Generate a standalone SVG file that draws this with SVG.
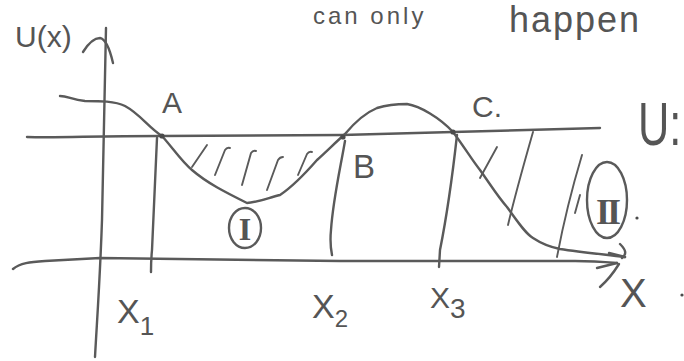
<svg xmlns="http://www.w3.org/2000/svg" width="684" height="361" viewBox="0 0 684 361">
  <style>
    .ln { fill: none; stroke: #5a5a5a; stroke-width: 2.4; stroke-linecap: round; stroke-linejoin: round; }
    .thin { fill: none; stroke: #5a5a5a; stroke-width: 1.9; stroke-linecap: round; stroke-linejoin: round; }
    .dot { fill: #4a4a4a; }
    .t { font-family: "Liberation Sans", "DejaVu Sans", sans-serif; fill: #555555; }
    .r { font-family: "Liberation Serif", "DejaVu Serif", serif; fill: #555555; font-weight: bold; }
  </style>
  <rect width="684" height="361" fill="#ffffff"/>

  <!-- top handwritten sentence -->
  <g id="note">
    <text class="t" x="313" y="24" font-size="24" letter-spacing="3">can only</text>
    <text class="t" x="509" y="32" font-size="36" letter-spacing="2">happen</text>
  </g>

  <!-- axes -->
  <g id="axes">
    <path class="ln" d="M106,28 C105,80 104,150 102,220 C100,280 97,320 95,357"/>
    <path class="ln" d="M83,52 C88,44 94,38 100,38 C106,39 110,50 113,63"/>
    <path class="ln" d="M13,269 C20,263 30,262 45,261 L100,258 L340,261 L575,261 C590,261 605,262 617,263"/>
    <path class="ln" d="M597,268 L617,263 M600,287 C608,280 614,272 619,264"/>
    <text class="t" x="15" y="47" font-size="30">U(x)</text>
    <text class="t" x="620" y="307" font-size="40">X</text>
    <circle class="dot" cx="682" cy="295" r="1.6"/>
  </g>

  <!-- energy level U -->
  <g id="level">
    <path class="ln" d="M27,137 C60,138 90,136 160,136 L342,135 L453,132 L600,128"/>
    <text class="t" transform="translate(638,145) scale(0.7,1)" font-size="62">U:</text>
  </g>

  <!-- potential curve -->
  <g id="curve">
    <path class="ln" d="M60,96 C68,96 72,100 85,101 C100,101 115,101 125,106 C140,114 148,127 162,136 C172,147 182,162 192,170 C207,183 225,192 247,203 C255,203 268,198 280,195 C295,185 310,168 317,160 C328,150 336,142 345,134 C355,122 365,113 377,108 C390,104 400,104 407,104 C420,106 440,118 453,132 C465,148 472,160 480,170 C490,184 498,197 507,207 C518,222 525,233 533,238 C542,244 550,247 560,249 C580,252 600,254 625,257"/>
    <path class="ln" d="M609,253 L625,257 M620,244 C626,250 627,254 622,258"/>
  </g>

  <!-- turning points -->
  <g id="pointA">
    <circle class="dot" cx="162" cy="136" r="2.6"/>
    <text class="t" x="162" y="113" font-size="30">A</text>
  </g>
  <g id="pointB">
    <circle class="dot" cx="343" cy="137" r="2.6"/>
    <text class="t" x="353" y="178" font-size="33">B</text>
  </g>
  <g id="pointC">
    <circle class="dot" cx="453" cy="132" r="2.6"/>
    <text class="t" x="472" y="117" font-size="30">C.</text>
  </g>

  <!-- vertical drop lines and x labels -->
  <g id="x1">
    <path class="ln" d="M157,138 C155,180 153,220 152,250 C151,260 151,265 151,272"/>
    <text class="t" x="117" y="323" font-size="34">X<tspan font-size="26" dy="12">1</tspan></text>
  </g>
  <g id="x2">
    <path class="ln" d="M345,141 C340,170 333,200 331,230 C330,240 331,250 332,255"/>
    <text class="t" x="312" y="318" font-size="34">X<tspan font-size="24" dy="9">2</tspan></text>
  </g>
  <g id="x3">
    <path class="ln" d="M457,135 C452,180 445,225 440,250 L439,267"/>
    <text class="t" x="430" y="308" font-size="30">X<tspan font-size="28" dy="10">3</tspan></text>
  </g>

  <!-- region I -->
  <g id="regionI">
    <path class="thin" d="M192,167 L207,145"/>
    <path class="thin" d="M215,175 L225,150 Q227,147 230,148"/>
    <path class="thin" d="M242,185 L251,153 Q253,150 256,151"/>
    <path class="thin" d="M267,190 L278,160 Q280,157 283,157"/>
    <path class="thin" d="M298,175 L307,154 Q309,151 312,152"/>
    <ellipse class="ln" cx="245" cy="228" rx="16" ry="20"/>
    <text class="r" x="245" y="240" font-size="32" text-anchor="middle">I</text>
  </g>

  <!-- region II -->
  <g id="regionII">
    <path class="thin" d="M480,178 L497,147"/>
    <path class="thin" d="M508,225 C515,195 525,160 533,132"/>
    <path class="thin" d="M557,257 C563,225 573,185 582,155"/>
    <path class="thin" d="M575,213 L580,195"/>
    <ellipse class="ln" cx="607" cy="200" rx="20" ry="38"/>
    <text class="r" x="607" y="224" font-size="36" text-anchor="middle" letter-spacing="-3">II</text>
    <circle class="dot" cx="637" cy="218" r="1.6"/>
  </g>
</svg>
